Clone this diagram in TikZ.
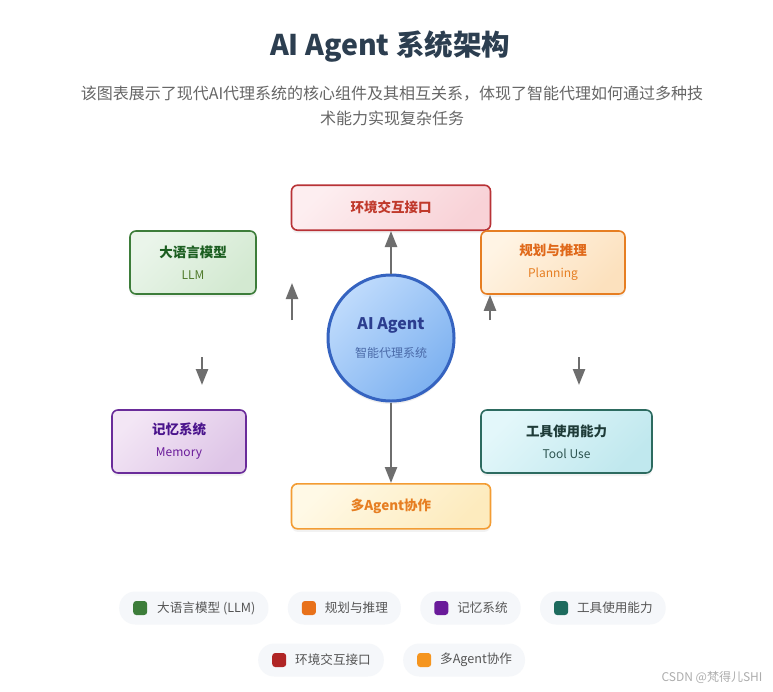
\documentclass[tikz,border=0pt]{standalone}
\usepackage{fontspec}
\setmainfont{Noto Sans CJK SC}
\usetikzlibrary{shapes,arrows.meta,positioning,shadows}
\definecolor{headgray}{HTML}{2C3E50}
\definecolor{subgray}{HTML}{666666}
\definecolor{leggray}{HTML}{555555}
\definecolor{pillbg}{HTML}{F5F7FA}
\definecolor{arrowgray}{HTML}{6E6E6E}
\definecolor{envline}{HTML}{B83236}
\definecolor{envtext}{HTML}{C0392B}
\definecolor{envfillA}{HTML}{FDEEF0}
\definecolor{envfillB}{HTML}{F8D2D7}
\definecolor{llmline}{HTML}{3D7D3A}
\definecolor{llmtext}{HTML}{1B5E20}
\definecolor{llmsub}{HTML}{4F7A2A}
\definecolor{llmfillA}{HTML}{EAF5EA}
\definecolor{llmfillB}{HTML}{D3E9D1}
\definecolor{planline}{HTML}{E67E22}
\definecolor{plantext}{HTML}{E0691A}
\definecolor{planswatch}{HTML}{E8711A}
\definecolor{planfillA}{HTML}{FFF4E4}
\definecolor{planfillB}{HTML}{FCE1BE}
\definecolor{hubline}{HTML}{3563C0}
\definecolor{hubtext}{HTML}{2C3E8F}
\definecolor{hubsub}{HTML}{4A6AA8}
\definecolor{hubfillA}{HTML}{BFDBFC}
\definecolor{hubfillB}{HTML}{7DB1F0}
\definecolor{memline}{HTML}{6A2C9A}
\definecolor{memtext}{HTML}{4A148C}
\definecolor{memsub}{HTML}{6A1B9A}
\definecolor{memfillA}{HTML}{F3E6F5}
\definecolor{memfillB}{HTML}{DEC5E7}
\definecolor{toolline}{HTML}{2D6B60}
\definecolor{tooltext}{HTML}{1E3B38}
\definecolor{toolsub}{HTML}{2D5450}
\definecolor{toolswatch}{HTML}{1E6B5E}
\definecolor{toolfillA}{HTML}{E3F7FA}
\definecolor{toolfillB}{HTML}{C0E8EE}
\definecolor{multiline}{HTML}{F39C33}
\definecolor{multitext}{HTML}{E67E22}
\definecolor{multiswatch}{HTML}{F5951F}
\definecolor{multifillA}{HTML}{FFF9E6}
\definecolor{multifillB}{HTML}{FDEBBE}
\definecolor{envswatch}{HTML}{B02525}
\tikzstyle{block} = [draw, rectangle, rounded corners=6pt, line width=1.6pt,
    minimum height=63pt, align=center,
    font=\fontsize{13.5}{22}\selectfont,
    drop shadow={shadow xshift=0pt, shadow yshift=-3pt, opacity=0.10}]
\tikzstyle{wide} = [block, minimum width=199pt, minimum height=45pt]
\tikzstyle{hub} = [draw, circle, line width=3pt, minimum size=126pt,
    inner sep=0pt, align=center,
    font=\fontsize{16}{28}\selectfont,
    drop shadow={shadow xshift=0pt, shadow yshift=-3pt, opacity=0.12}]
\tikzstyle{pill} = [fill=pillbg, rounded corners=16pt, minimum height=33pt,
    inner xsep=13pt, anchor=west, text=leggray,
    font=\fontsize{12.6}{15}\selectfont]
\tikzstyle{swatch} = [rounded corners=3pt, minimum size=14pt, inner sep=0pt]
\tikzstyle{link} = [->, line width=2.4pt, draw=arrowgray]
\tikzstyle{free} = [coordinate]

\begin{document}
\begin{tikzpicture}[x=1pt, y=-1pt, >={Triangle[length=16pt,width=12pt]}]
    \useasboundingbox (0,0) rectangle (773,691);
    \fill[white] (0,0) rectangle (773,691);
    % heading
    \node[font=\fontsize{28.5}{32}\selectfont\bfseries, text=headgray] (title)
        at (390,47) {AI Agent 系统架构};
    \node[font=\fontsize{16}{25}\selectfont, text=subgray, align=center]
        (lead) at (392,105.5)
        {该图表展示了现代AI代理系统的核心组件及其相互关系，体现了智能代理如何通过多种技\\术能力实现复杂任务};

    % the agent in the middle, the parts around it
    \node[hub, draw=hubline, top color=hubfillA, bottom color=hubfillB,
        shading angle=45, text=hubtext] (agent) at (391,338)
        {\textbf{AI Agent}\\{\fontsize{12}{28}\selectfont\color{hubsub}智能代理系统}};
    \node[wide, draw=envline, top color=envfillA, bottom color=envfillB,
        shading angle=45, text=envtext, above=42.5pt of agent] (env)
        {\textbf{环境交互接口}};
    \node[wide, draw=multiline, top color=multifillA, bottom color=multifillB,
        shading angle=45, text=multitext, below=80.5pt of agent] (multi)
        {\textbf{多Agent协作}};
    \node[block, minimum width=126pt, draw=llmline, top color=llmfillA,
        bottom color=llmfillB, shading angle=45,
        text=llmtext] (llm) at (193,262.5)
        {\textbf{大语言模型}\\{\fontsize{12}{22}\selectfont\color{llmsub}LLM}};
    \node[block, minimum width=144pt, draw=planline, top color=planfillA,
        bottom color=planfillB, shading angle=45,
        text=plantext] (plan) at (553,262.5)
        {\textbf{规划与推理}\\{\fontsize{12}{22}\selectfont\color{planline}Planning}};
    \node[block, minimum width=134pt, draw=memline, top color=memfillA,
        bottom color=memfillB, shading angle=45,
        text=memtext] (mem) at (179,441.5)
        {\textbf{记忆系统}\\{\fontsize{12}{22}\selectfont\color{memsub}Memory}};
    \node[block, minimum width=171pt, draw=toolline, top color=toolfillA,
        bottom color=toolfillB, shading angle=45,
        text=tooltext] (tool) at (566.5,441.5)
        {\textbf{工具使用能力}\\{\fontsize{12}{22}\selectfont\color{toolsub}Tool Use}};

    % connectors
    \draw[link] (agent.north) -- (agent.north |- env.south);
    \draw[link] (agent.south) -- (agent.south |- multi.north);
    \node[free] (llmfoot) at (292,320) {};
    \node[free] (llmtip) at (292,283) {};
    \draw[link] (llmfoot) -- (llmtip);
    \node[free] (planfoot) at (490,320) {};
    \draw[link] (planfoot) -- (planfoot |- plan.south);
    \node[free] (memhead) at (202,357) {};
    \node[free] (memtip) at (202,385) {};
    \draw[link] (memhead) -- (memtip);
    \node[free] (toolhead) at (579,357) {};
    \node[free] (tooltip) at (579,385) {};
    \draw[link] (toolhead) -- (tooltip);

    % legend
    \node[pill] (leg1) at (119,608) {\hspace*{25pt}大语言模型 (LLM)};
    \node[pill, right=19pt of leg1] (leg2) {\hspace*{24pt}规划与推理};
    \node[pill, right=19pt of leg2] (leg3) {\hspace*{24pt}记忆系统};
    \node[pill, right=19pt of leg3] (leg4) {\hspace*{24pt}工具使用能力};
    \node[pill] (leg5) at (258,660) {\hspace*{24pt}环境交互接口};
    \node[pill, right=19pt of leg5] (leg6) {\hspace*{24pt}多Agent协作};
    \node[swatch, fill=llmline, right=14pt of leg1.west] (sw1) {};
    \node[swatch, fill=planswatch, right=14pt of leg2.west] (sw2) {};
    \node[swatch, fill=memsub, right=14pt of leg3.west] (sw3) {};
    \node[swatch, fill=toolswatch, right=14pt of leg4.west] (sw4) {};
    \node[swatch, fill=envswatch, right=14pt of leg5.west] (sw5) {};
    \node[swatch, fill=multiswatch, right=14pt of leg6.west] (sw6) {};

    \node[anchor=east, text=black!32, font=\fontsize{12}{14}\selectfont]
        (mark) at (766,677) {CSDN @梵得儿SHI};
\end{tikzpicture}
\end{document}
